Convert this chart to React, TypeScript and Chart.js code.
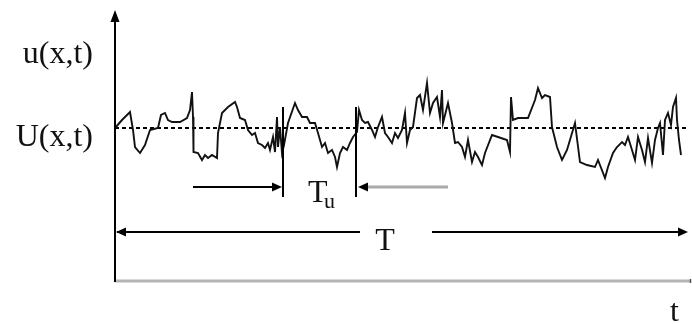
import React, { useEffect, useRef } from "react";
import { Chart, registerables } from "chart.js";

Chart.register(...registerables);

// time samples (arbitrary units) and instantaneous velocity fluctuation about the mean
const timeValues = [
  0, 7, 15, 18, 20, 25, 30, 35, 43, 46, 50, 53, 57, 65, 72, 75, 77, 78, 78.5, 83,
  87, 90, 93, 97, 102, 103, 107, 113, 120, 122, 125, 130, 133, 137, 140, 143, 147, 150, 153, 155,
  158, 160, 162, 163, 165, 167, 169, 173, 180, 183, 187, 192, 195, 200, 203, 207, 210, 213, 217, 220,
  222, 225, 228, 232, 235, 238, 242, 244, 247, 250, 253, 257, 260, 263, 267, 270, 273, 277, 280, 283,
  287, 290, 292, 295, 298, 302, 305, 308, 312, 315, 318, 322, 325, 327, 328, 333, 337, 340, 343, 347,
  350, 353, 357, 360, 363, 367, 370, 377, 383, 392, 395, 396, 398, 403, 413, 420, 423, 427, 430, 435,
  437, 442, 447, 452, 460, 465, 472, 480, 483, 490, 493, 498, 502, 507, 510, 513, 517, 520, 523, 527,
  530, 533, 537, 540, 543, 545, 548, 550, 553, 556, 558, 561, 562, 564, 566,
];
const velocityValues = [
  0, 8, 16, -2, -19, -25, -17, -2, 0, 13, 15, 8, 6, 6, 10, 18, 36, 11, -24, -25,
  -32, -27, -30, -27, -30, -5, 15, 21, 26, 21, 10, 8, -2, -7, -5, -15, -17, -20, -15, -22,
  -9, -24, 11, -19, 1, -25, -17, 5, 25, 18, 11, 11, 5, 5, -5, -19, -15, -25, -22, -29,
  -39, -25, -19, -22, -15, -9, -4, 18, 8, 5, 6, -2, -9, 1, 11, -5, -9, -15, -5, -10,
  -2, 15, -15, -2, 1, 30, 33, 18, 45, 15, 25, 31, 11, 38, 5, 25, 5, -15, -14, -19,
  -29, -12, -34, -24, -29, -37, -25, -7, -9, -12, -24, 31, 8, 10, 10, 28, 40, 30, 33, 31,
  1, -19, -32, -22, 5, -34, -37, -39, -32, -50, -39, -25, -19, -14, -17, -9, -22, -32, -9, -22,
  -34, -10, -35, -12, 0, 5, -27, 8, 15, 3, 21, 30, 8, -12, -27,
];

const meanVelocity = 0;
const axisTMin = 0;
const axisTMax = 575;
const axisUMin = -154;
const axisUMax = 116;

// annotation values (in data units)
const totalPeriod = [0, 573];
const totalPeriodLevel = -104;
const totalLabelGap = [245, 317];
const eddyPeriod = [168, 241];
const eddyMarkerRange = [21, -69];
const eddyArrowLevel = -59;
const eddyArrowStarts = [78, 333];

const labelFont = '32px "Liberation Serif", "DejaVu Serif", serif';
const subFont = '22px "Liberation Serif", "DejaVu Serif", serif';

function arrowHead(ctx: CanvasRenderingContext2D, x: number, y: number, dir: "left" | "right" | "up", color: string) {
  ctx.save();
  ctx.fillStyle = color;
  ctx.beginPath();
  if (dir === "right") {
    ctx.moveTo(x, y);
    ctx.lineTo(x - 10, y - 4.5);
    ctx.lineTo(x - 10, y + 4.5);
  } else if (dir === "left") {
    ctx.moveTo(x, y);
    ctx.lineTo(x + 10, y - 4.5);
    ctx.lineTo(x + 10, y + 4.5);
  } else {
    ctx.moveTo(x, y);
    ctx.lineTo(x - 4.5, y + 12);
    ctx.lineTo(x + 4.5, y + 12);
  }
  ctx.closePath();
  ctx.fill();
  ctx.restore();
}

function line(ctx: CanvasRenderingContext2D, x1: number, y1: number, x2: number, y2: number, color: string, w: number) {
  ctx.save();
  ctx.strokeStyle = color;
  ctx.lineWidth = w;
  ctx.beginPath();
  ctx.moveTo(x1, y1);
  ctx.lineTo(x2, y2);
  ctx.stroke();
  ctx.restore();
}

const diagramPlugin = {
  id: "diagram",
  beforeDatasetsDraw(chart: any) {
    const ctx = chart.ctx as CanvasRenderingContext2D;
    const xs = chart.scales.x;
    const ys = chart.scales.y;
    const yMean = ys.getPixelForValue(meanVelocity);
    ctx.save();
    ctx.strokeStyle = "#000";
    ctx.lineWidth = 1.8;
    ctx.setLineDash([4, 3]);
    ctx.beginPath();
    ctx.moveTo(xs.getPixelForValue(axisTMin), yMean);
    ctx.lineTo(xs.getPixelForValue(573), yMean);
    ctx.stroke();
    ctx.restore();
  },
  afterDraw(chart: any) {
    const ctx = chart.ctx as CanvasRenderingContext2D;
    const xs = chart.scales.x;
    const ys = chart.scales.y;
    const area = chart.chartArea;
    const X = (v: number) => xs.getPixelForValue(v);
    const Y = (v: number) => ys.getPixelForValue(v);

    // x axis (grey)
    line(ctx, area.left, area.bottom - 1, area.right + 1, area.bottom - 1, "#b4b4b4", 3);
    line(ctx, area.right + 0.5, area.bottom - 3, area.right + 0.5, area.bottom + 1, "#555", 1.5);
    // y axis with arrow
    line(ctx, area.left, area.bottom, area.left, area.top + 8, "#000", 2);
    arrowHead(ctx, area.left, area.top - 2, "up", "#000");

    // total period T
    const yT = Y(totalPeriodLevel);
    line(ctx, X(totalPeriod[0]) + 2, yT, X(totalLabelGap[0]), yT, "#000", 2);
    line(ctx, X(totalLabelGap[1]), yT, X(totalPeriod[1]) - 4, yT, "#000", 2);
    arrowHead(ctx, X(totalPeriod[0]) + 1, yT, "left", "#000");
    arrowHead(ctx, X(totalPeriod[1]), yT, "right", "#000");

    // eddy period Tu
    for (const tv of eddyPeriod) {
      line(ctx, X(tv), Y(eddyMarkerRange[0]), X(tv), Y(eddyMarkerRange[1]), "#000", 2);
    }
    const yA = Y(eddyArrowLevel);
    line(ctx, X(eddyArrowStarts[0]), yA, X(eddyPeriod[0]) - 6, yA, "#000", 2);
    arrowHead(ctx, X(eddyPeriod[0]) - 1, yA, "right", "#000");
    line(ctx, X(eddyArrowStarts[1]), yA, X(eddyPeriod[1]) + 8, yA, "#aaaaaa", 3);
    arrowHead(ctx, X(eddyPeriod[1]) + 2, yA, "left", "#000");

    // text
    ctx.save();
    ctx.fillStyle = "#111";
    ctx.font = labelFont;
    ctx.textBaseline = "alphabetic";
    ctx.textAlign = "right";
    ctx.fillText("u(x,t)", area.left - 22, Y(65));
    ctx.fillText("U(x,t)", area.left - 22, Y(-18));
    ctx.textAlign = "center";
    ctx.fillText("T", X(270), Y(-122));
    ctx.textAlign = "left";
    ctx.fillText("T", X(193), Y(-74));
    ctx.fillText("t", X(555), Y(-193));
    ctx.font = subFont;
    ctx.fillText("u", X(209), Y(-80));
    ctx.restore();
  },
};

export default function App() {
  const ref = useRef<HTMLCanvasElement | null>(null);
  useEffect(() => {
    if (!ref.current) return;
    const points = timeValues.map((t, i) => ({ x: t, y: velocityValues[i] }));
    const chart = new Chart(ref.current, {
      type: "line",
      data: {
        datasets: [
          {
            data: points,
            borderColor: "#111",
            borderWidth: 1.9,
            pointRadius: 0,
            tension: 0,
            fill: false,
          },
        ],
      },
      options: {
        animation: false,
        responsive: false,
        devicePixelRatio: 1,
        layout: { padding: { left: 115, right: 2, top: 12, bottom: 42 } },
        plugins: { legend: { display: false }, tooltip: { enabled: false } },
        scales: {
          x: { type: "linear", min: axisTMin, max: axisTMax, display: false },
          y: { type: "linear", min: axisUMin, max: axisUMax, display: false },
        },
      },
      plugins: [diagramPlugin],
    });
    return () => chart.destroy();
  }, []);
  return (
    <div style={{ position: "absolute", left: 0, top: 0, width: 692, height: 324, background: "#fff" }}>
      <canvas ref={ref} width={692} height={324} />
    </div>
  );
}
